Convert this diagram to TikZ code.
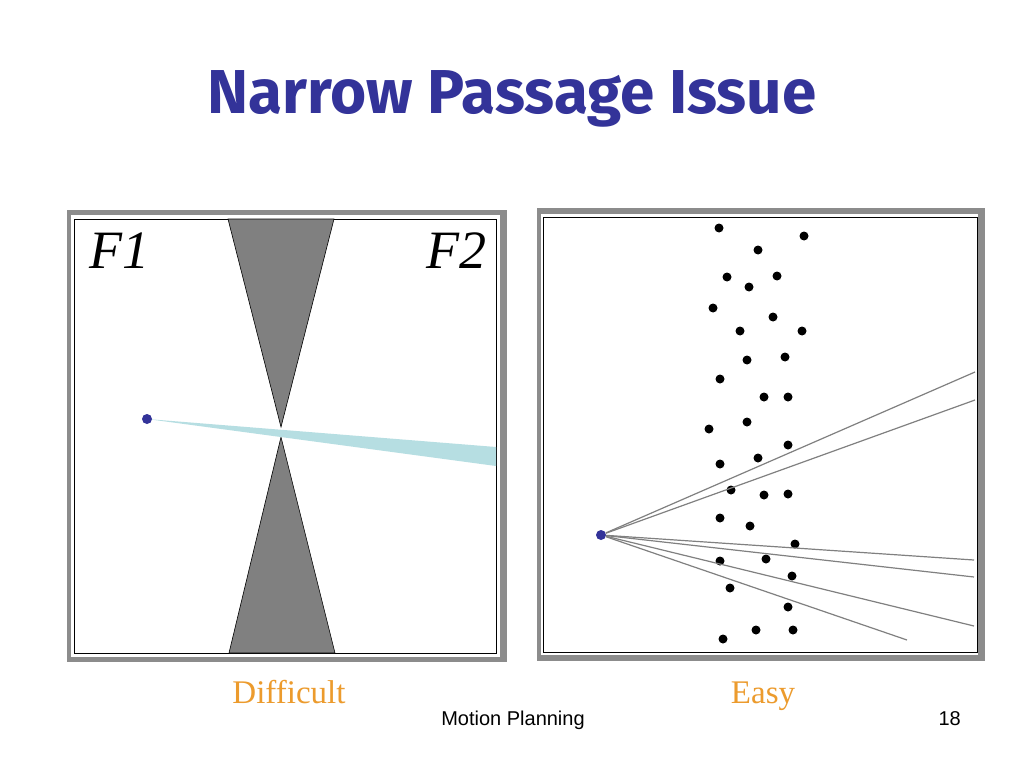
\documentclass[tikz,border=0pt]{standalone}
\usepackage{fontspec}
\setmainfont{Liberation Serif}
\setsansfont{Liberation Sans}
\newfontfamily\titlefont{Fira Sans}

\definecolor{titleblue}{RGB}{51,51,153}
\definecolor{framegray}{RGB}{140,140,140}
\definecolor{obstgray}{RGB}{128,128,128}
\definecolor{beamcyan}{RGB}{182,222,226}
\definecolor{labelorange}{RGB}{236,155,45}

\begin{document}
\begin{tikzpicture}[x=1pt,y=-1pt,
    title/.style={font=\titlefont\bfseries\fontsize{62}{66}\selectfont, text=titleblue, inner sep=0pt},
    caption/.style={font=\fontsize{33}{38}\selectfont, text=labelorange, inner sep=0pt},
    footer/.style={font=\sffamily\fontsize{20}{24}\selectfont, inner sep=0pt},
    flabel/.style={font=\itshape\fontsize{54}{58}\selectfont, inner sep=0pt},
    frame/.style={fill=framegray},
    obst/.style={fill=obstgray, draw=black, line width=0.6pt},
    qdot/.style={circle, fill=titleblue, inner sep=0pt, minimum size=10pt},
    pdot/.style={circle, fill=black, inner sep=0pt, minimum size=9pt},
    ray/.style={draw=gray, line width=1.2pt}]
  \useasboundingbox[fill=white] (0,0) rectangle (1024,768);

  % title
  \node[title] (title) at (512,99) {Narrow Passage Issue};

  % difficult case
  \fill[frame] (67,210) rectangle (507,662);
  \fill[white] (71,215) rectangle (500,657);
  \draw[line width=0.8pt] (74,219) rectangle (496,653);

  \filldraw[obst] (228,219) -- (281,427) -- (334,219) -- cycle;
  \filldraw[obst] (229,653) -- (281,437) -- (335,653) -- cycle;

  \fill[beamcyan] (147,419) -- (496,447) -- (496,466) -- cycle;
  \node[qdot] (qa) at (147,419) {};

  \node[flabel, anchor=base west] (f1) at (89,268) {F1};
  \node[flabel, anchor=base east] (f2) at (487,268) {F2};

  % easy case
  \fill[frame] (537,208) rectangle (985,661);
  \fill[white] (541,214) rectangle (978,655);
  \draw[line width=0.8pt] (543,217) rectangle (977,652);

  \foreach \x/\y [count=\i] in {719/228, 804/236, 758/250, 727/277, 777/276,
      749/287, 713/308, 773/317, 740/331, 802/331, 747/360, 785/357, 720/379,
      764/397, 788/397, 747/422, 709/429, 788/445, 758/458, 720/464, 731/490,
      764/495, 788/494, 720/518, 750/526, 795/544, 720/561, 766/559, 792/576,
      730/588, 788/607, 756/630, 793/630, 723/639}
    \node[pdot] (d\i) at (\x,\y) {};

  \node[qdot] (qb) at (601,535) {};
  \coordinate (r1) at (975,372);
  \coordinate (r2) at (975,400);
  \coordinate (r3) at (974,560);
  \coordinate (r4) at (974,577);
  \coordinate (r5) at (974,626);
  \coordinate (r6) at (907,640);
  \foreach \i in {1,...,6}
    \draw[ray] (qb) -- (r\i);

  % captions
  \node[caption, anchor=base] (difficult) at (289,703) {Difficult};
  \node[caption, anchor=base] (easy) at (763,703) {Easy};
  \node[footer, anchor=base] (topic) at (513,725) {Motion Planning};
  \node[footer, anchor=base east] (page) at (961,725) {18};
\end{tikzpicture}
\end{document}
